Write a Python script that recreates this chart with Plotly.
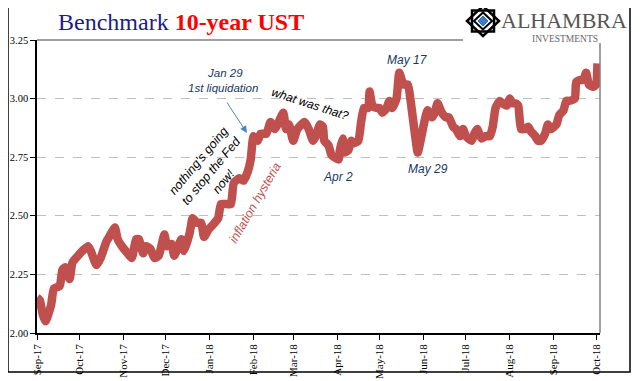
import plotly.graph_objects as go

# ---- data ----
dates = [
    "2017-09-01", "2017-09-03", "2017-09-05", "2017-09-07", "2017-09-09", "2017-09-11", "2017-09-13",
    "2017-09-17", "2017-09-19", "2017-09-21", "2017-09-24", "2017-09-26", "2017-09-30",
    "2017-10-03", "2017-10-07", "2017-10-09", "2017-10-13", "2017-10-16", "2017-10-20", "2017-10-22",
    "2017-10-26", "2017-10-28", "2017-10-31",
    "2017-11-04", "2017-11-07", "2017-11-10", "2017-11-12", "2017-11-15", "2017-11-17", "2017-11-20",
    "2017-11-23", "2017-11-26", "2017-11-30",
    "2017-12-02", "2017-12-05", "2017-12-07", "2017-12-12", "2017-12-14", "2017-12-18", "2017-12-20",
    "2017-12-23", "2017-12-26", "2017-12-28", "2017-12-31",
    "2018-01-03", "2018-01-07", "2018-01-09", "2018-01-13", "2018-01-16", "2018-01-18", "2018-01-22",
    "2018-01-25", "2018-01-28", "2018-01-30",
    "2018-02-01", "2018-02-04", "2018-02-06", "2018-02-10", "2018-02-13", "2018-02-16", "2018-02-18",
    "2018-02-22", "2018-02-24", "2018-02-26",
    "2018-03-01", "2018-03-04", "2018-03-09", "2018-03-12", "2018-03-15", "2018-03-17", "2018-03-20",
    "2018-03-22", "2018-03-23", "2018-03-26", "2018-03-28", "2018-03-30",
    "2018-04-02", "2018-04-03", "2018-04-05", "2018-04-06", "2018-04-09", "2018-04-11", "2018-04-13",
    "2018-04-16", "2018-04-18", "2018-04-20", "2018-04-23", "2018-04-24", "2018-04-26", "2018-04-29",
    "2018-05-01", "2018-05-03", "2018-05-06", "2018-05-08", "2018-05-10", "2018-05-13", "2018-05-15",
    "2018-05-18", "2018-05-21", "2018-05-23", "2018-05-26", "2018-05-28", "2018-05-30",
    "2018-06-02", "2018-06-04", "2018-06-07", "2018-06-09", "2018-06-11", "2018-06-14", "2018-06-17",
    "2018-06-19", "2018-06-22", "2018-06-24", "2018-06-27", "2018-06-29",
    "2018-07-01", "2018-07-05", "2018-07-07", "2018-07-09", "2018-07-12", "2018-07-15", "2018-07-18",
    "2018-07-20", "2018-07-22", "2018-07-25", "2018-07-27", "2018-07-30",
    "2018-08-01", "2018-08-03", "2018-08-05", "2018-08-07", "2018-08-09", "2018-08-12", "2018-08-14",
    "2018-08-16", "2018-08-19", "2018-08-21", "2018-08-23", "2018-08-26", "2018-08-28", "2018-08-30",
    "2018-09-03", "2018-09-05", "2018-09-08", "2018-09-10", "2018-09-12", "2018-09-16", "2018-09-17",
    "2018-09-20", "2018-09-22", "2018-09-24", "2018-09-26", "2018-09-29", "2018-10-01", "2018-10-02",
]
yields = [
    2.15, 2.14, 2.08, 2.05, 2.08, 2.12, 2.19, 2.20, 2.27, 2.28, 2.23, 2.30, 2.33,
    2.35, 2.37, 2.35, 2.29, 2.32, 2.39, 2.41, 2.45, 2.40, 2.37,
    2.34, 2.32, 2.40, 2.40, 2.34, 2.37, 2.36, 2.32, 2.33, 2.42,
    2.37, 2.38, 2.33, 2.40, 2.35, 2.43, 2.49, 2.47, 2.47, 2.41, 2.44,
    2.46, 2.49, 2.55, 2.55, 2.55, 2.64, 2.66, 2.65, 2.69, 2.74,
    2.84, 2.82, 2.85, 2.85, 2.90, 2.87, 2.89, 2.94, 2.87, 2.89,
    2.82, 2.87, 2.90, 2.87, 2.82, 2.84, 2.89, 2.88, 2.82, 2.80, 2.76, 2.75,
    2.74, 2.78, 2.83, 2.77, 2.78, 2.82, 2.81, 2.82, 2.90, 2.96, 2.96, 3.03, 2.97, 2.96,
    2.96, 2.94, 2.96, 2.99, 2.96, 3.00, 3.11, 3.06, 3.06, 2.99, 2.85, 2.77, 2.82,
    2.91, 2.95, 2.92, 2.94, 2.98, 2.94, 2.92, 2.92, 2.88, 2.87, 2.84, 2.87,
    2.84, 2.82, 2.85, 2.87, 2.83, 2.84, 2.84, 2.88, 2.96, 2.99, 2.98, 2.97,
    3.00, 2.98, 2.98, 2.97, 2.87, 2.87, 2.88, 2.86, 2.84, 2.82, 2.82, 2.85, 2.89, 2.87,
    2.89, 2.93, 2.95, 2.99, 2.99, 3.00, 3.07, 3.08, 3.08, 3.11, 3.06, 3.05, 3.06, 3.15,
]
y_ticks = [2.00, 2.25, 2.50, 2.75, 3.00, 3.25]
y_tick_text = ["2.00", "2.25", "2.50", "2.75", "3.00", "3.25"]

# ---- layout helpers (screen pixel -> paper); page body has an 8px offset ----
OX, OY = 8, 8
W, H = 641 - OX, 381 - OY
PL, PR, PT, PB = 37, 600, 40, 333          # plot area in screen pixels
L, T = PL - OX, PT - OY
R, B = W - (PR - OX), H - (PB - OY)
PW, PH = W - L - R, H - T - B


def px(x):
    return (x - OX - L) / PW


def py(y):
    return 1 - (y - OY - T) / PH


def path(points):
    return "M " + " L ".join(f"{px(a):.5f},{py(b):.5f}" for a, b in points) + " Z"


RED = "#C0504D"
NAVY = "#17375E"

fig = go.Figure()
fig.add_trace(go.Scatter(
    x=dates, y=yields, mode="lines",
    line=dict(color=RED, width=8.5, shape="spline", smoothing=0.5),
    hoverinfo="skip", showlegend=False,
))

shapes = []
# outer black frame
shapes.append(dict(type="path", xref="paper", yref="paper",
                   path=path([(8, 6), (630, 6), (630, 372), (8, 372)]),
                   line=dict(color="black", width=1.5), fillcolor="rgba(0,0,0,0)", layer="above"))
# white strip hiding the top grid under the logo
shapes.append(dict(type="rect", xref="paper", yref="paper",
                   x0=px(463), x1=px(602), y0=py(37), y1=py(43),
                   fillcolor="white", line=dict(width=0), layer="above"))
# plot frame top (solid grey) and right
shapes.append(dict(type="line", xref="paper", yref="paper",
                   x0=0, x1=px(463), y0=1, y1=1,
                   line=dict(color="#808080", width=1.5), layer="above"))
shapes.append(dict(type="line", xref="paper", yref="paper",
                   x0=1, x1=1, y0=0, y1=py(43),
                   line=dict(color="#808080", width=1.5), layer="above"))
# logo icon
cx, cy = 483, 21
shapes.append(dict(type="path", xref="paper", yref="paper",
                   path=path([(cx - 16, cy), (cx, cy - 15), (cx + 16, cy), (cx, cy + 15)]),
                   line=dict(color="black", width=2.5), fillcolor="white", layer="above"))
shapes.append(dict(type="path", xref="paper", yref="paper",
                   path=path([(cx - 11, cy - 10.5), (cx + 11, cy - 10.5), (cx + 11, cy + 10.5), (cx - 11, cy + 10.5)]),
                   line=dict(color="black", width=2.5), fillcolor="rgba(0,0,0,0)", layer="above"))
shapes.append(dict(type="path", xref="paper", yref="paper",
                   path=path([(cx - 9, cy), (cx, cy - 8.5), (cx + 9, cy), (cx, cy + 8.5)]),
                   line=dict(color="black", width=2), fillcolor="white", layer="above"))
shapes.append(dict(type="path", xref="paper", yref="paper",
                   path=path([(cx - 5, cy), (cx, cy - 5), (cx + 5, cy), (cx, cy + 5)]),
                   line=dict(color="#2F6FBF", width=1), fillcolor="#3A7DC9", layer="above"))

ann = []


def text(x, y, s, size=11.5, color="black", angle=0, family="Liberation Sans", italic=True, **kw):
    if italic:
        s = f"<i>{s}</i>"
    ann.append(dict(xref="paper", yref="paper", x=px(x), y=py(y), text=s,
                    showarrow=False, textangle=angle, xanchor="center", yanchor="middle",
                    font=dict(size=size, color=color, family=family), **kw))


# title
text(181, 22,
     "<span style='color:#1C1C8A'>Benchmark</span> "
     "<b><span style='color:#FF0000'>10-year UST</span></b>",
     size=24, family="Liberation Serif", italic=False)
# logo text
text(564, 20, "ALHAMBRA", size=22, color="#555555", family="Liberation Serif", italic=False)
text(565, 39, "INVESTMENTS", size=9.5, color="#666666", family="Liberation Serif", italic=False)

# annotations
text(225, 73, "Jan 29", color=NAVY)
text(223, 88, "1st liquidation", color=NAVY)
text(211, 171, "nothing's going<br>to stop the Fed<br>now!", size=12.5, angle=-50)
text(255, 203, "inflation hysteria", size=12.5, color=RED, angle=-60)
text(310, 104, "what was that?", size=12, angle=18)
text(407, 60, "May 17", size=12, color=NAVY)
text(338, 177, "Apr 2", size=12, color=NAVY)
text(428, 169, "May 29", size=12, color=NAVY)

# arrow
ann.append(dict(xref="paper", yref="paper", x=px(247), y=py(133),
                ax=-21, ay=-32, text="", showarrow=True,
                arrowhead=2, arrowsize=1.4, arrowwidth=1, arrowcolor="#4F81BD"))

fig.update_layout(
    width=W, height=H,
    margin=dict(l=L, r=R, t=T, b=B, pad=0, autoexpand=False),
    paper_bgcolor="white", plot_bgcolor="white",
    shapes=shapes, annotations=ann,
    showlegend=False,
    xaxis=dict(
        type="date",
        range=["2017-09-01", "2018-10-03 19:00"],
        tick0="2017-09-01", dtick="M1", tickformat="%b-%y",
        tickangle=-90, ticks="outside", ticklen=5, tickcolor="black", tickwidth=1,
        showline=True, linecolor="black", linewidth=1.5,
        showgrid=False, zeroline=False, automargin=False,
        tickfont=dict(family="Liberation Serif", size=11, color="black"),
    ),
    yaxis=dict(
        range=[2.0, 3.25], tickmode="array", tickvals=y_ticks, ticktext=y_tick_text,
        ticks="outside", ticklen=5, tickcolor="black", tickwidth=1,
        showline=True, linecolor="black", linewidth=1.5,
        showgrid=True, gridcolor="#BFBFBF", griddash="dash", gridwidth=1,
        zeroline=False, automargin=False,
        tickfont=dict(family="Liberation Serif", size=10.5, color="black"),
    ),
)

fig.write_html("out.html")
